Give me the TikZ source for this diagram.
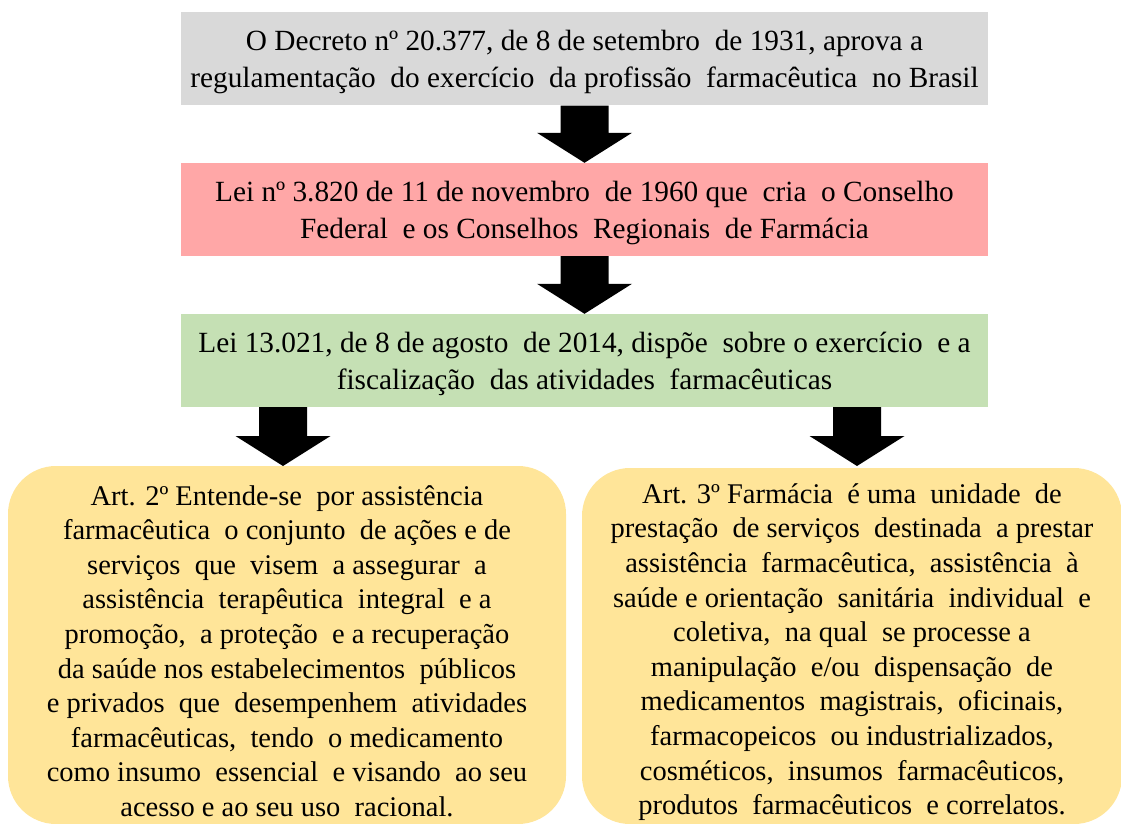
\documentclass[tikz,border=0pt]{standalone}
\usepackage{fontspec}
\setmainfont{Liberation Serif}
\usetikzlibrary{calc}
\definecolor{cgray}{HTML}{D9D9D9}
\definecolor{cpink}{HTML}{FFA7A7}
\definecolor{cgreen}{HTML}{C5E0B4}
\definecolor{cyellow}{HTML}{FFE599}
\newcommand{\tstrut}{\rule{0pt}{27pt}}
\newcommand{\ystrut}{\rule{0pt}{32pt}}
\tikzset{
  topbox/.style={rectangle, inner sep=0pt, minimum width=807pt, minimum height=93pt, align=center,
    font=\fontsize{29.3}{36.8}\selectfont},
  artbox/.style={rectangle, rounded corners=48pt, fill=cyellow, inner sep=0pt, align=center,
    font=\fontsize{28.5}{34.6}\selectfont},
}
\newcommand{\blockarr}[2]{%
  \fill let \p1=(#1), \p2=(#2) in
    (\x1-24pt,\y1) -- (\x1-24pt,\y2+30pt) -- (\x1-47.5pt,\y2+30pt) -- (\x2,\y2)
    -- (\x1+47.5pt,\y2+30pt) -- (\x1+24pt,\y2+30pt) -- (\x1+24pt,\y1) -- cycle;}
\begin{document}
\begin{tikzpicture}[x=1pt,y=-1pt]
\useasboundingbox (0,0) rectangle (1121,824);
\node[topbox, fill=cgray] (dec) at (584.5,59) {\tstrut O Decreto nº 20.377, de 8 de setembro\ \ de 1931, aprova a\\regulamentação\ \ do exercício\ \ da profissão\ \ farmacêutica\ \ no Brasil};
\node[topbox, fill=cpink] (lei1) at (584.5,209.5) {\tstrut Lei nº 3.820 de 11 de novembro\ \ de 1960 que\ \ cria\ \ o Conselho\\Federal\ \ e os Conselhos\ \ Regionais\ \ de Farmácia};
\node[topbox, fill=cgreen] (lei2) at (584.5,360.5) {\tstrut Lei 13.021, de 8 de agosto\ \ de 2014, dispõe\ \ sobre o exercício\ \ e a\\fiscalização\ \ das atividades\ \ farmacêuticas};
\node[artbox, minimum width=558pt, minimum height=358pt] (art2) at (287,645) {\ystrut Art. 2º Entende-se\ \ por assistência\\farmacêutica\ \ o conjunto\ \ de ações e de\\serviços\ \ que\ \ visem\ \ a assegurar\ \ a\\assistência\ \ terapêutica\ \ integral\ \ e a\\promoção,\ \ a proteção\ \ e a recuperação\\da saúde nos estabelecimentos\ \ públicos\\e privados\ \ que\ \ desempenhem\ \ atividades\\farmacêuticas,\ \ tendo\ \ o medicamento\\como insumo\ \ essencial\ \ e visando\ \ ao seu\\acesso e ao seu uso\ \ racional.};
\node[artbox, minimum width=540pt, minimum height=356pt] (art3) at (852,646) {\ystrut Art. 3º Farmácia\ \ é uma\ \ unidade\ \ de\\prestação\ \ de serviços\ \ destinada\ \ a prestar\\assistência\ \ farmacêutica,\ \ assistência\ \ à\\saúde e orientação\ \ sanitária\ \ individual\ \ e\\coletiva,\ \ na qual\ \ se processe a\\manipulação\ \ e/ou\ \ dispensação\ \ de\\medicamentos\ \ magistrais,\ \ oficinais,\\farmacopeicos\ \ ou industrializados,\\cosméticos,\ \ insumos\ \ farmacêuticos,\\produtos\ \ farmacêuticos\ \ e correlatos.};
\coordinate (s3) at (283,407);
\coordinate (t3) at (283,466);
\coordinate (s4) at (857,407);
\coordinate (t4) at (857,466);
\blockarr{dec.south}{lei1.north}
\blockarr{lei1.south}{lei2.north}
\blockarr{s3}{t3}
\blockarr{s4}{t4}
\end{tikzpicture}
\end{document}
